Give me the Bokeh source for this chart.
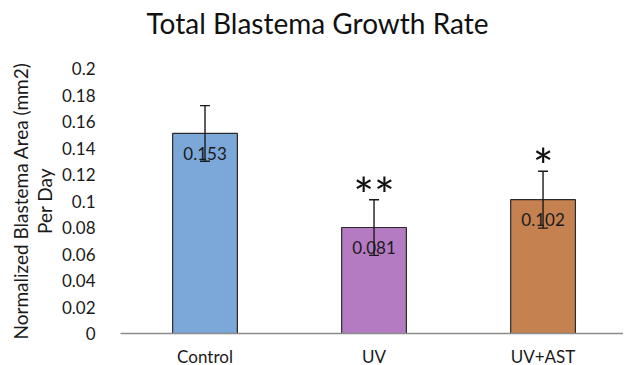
from bokeh.plotting import figure
from bokeh.models import ColumnDataSource, Range1d, FixedTicker, Whisker, TeeHead
from bokeh.embed import file_html
from bokeh.resources import INLINE
from bokeh.core.properties import value

categories = ["Control", "UV", "UV+AST"]
rates = [0.151, 0.080, 0.101]
errors = [0.021, 0.021, 0.0215]
value_labels = ["0.153", "0.081", "0.102"]
significance = ["", "**", "*"]
colors = ["#7BA7D9", "#B47BC3", "#C5814F"]
y_ticks = [0, 0.02, 0.04, 0.06, 0.08, 0.1, 0.12, 0.14, 0.16, 0.18, 0.2]
y_tick_labels = ["0", "0.02", "0.04", "0.06", "0.08", "0.1", "0.12", "0.14", "0.16", "0.18", "0.2"]
title_text = "Total Blastema Growth Rate"
y_title = "Normalized Blastema Area (mm2)\nPer Day"

FONT = "Lato"
xpos = [i + 0.5 for i in range(len(categories))]
source = ColumnDataSource(dict(
    x=xpos,
    rate=rates,
    upper=[r + e for r, e in zip(rates, errors)],
    lower=[r - e for r, e in zip(rates, errors)],
    label=value_labels,
    sig=significance,
    color=colors,
))

p = figure(frame_width=503, frame_height=265, x_range=Range1d(0, 2.976), y_range=Range1d(0, 0.2),
           output_backend="svg", toolbar_location=None, title=title_text + "\n ",
           min_border_left=120, min_border_right=0, min_border_top=66, min_border_bottom=33)
p.outline_line_color = None
p.xgrid.visible = False
p.ygrid.visible = False
p.background_fill_color = "white"

p.title.text_font = FONT
p.title.text_font_size = "28px"
p.title.text_font_style = "normal"
p.title.text_color = "#111111"
p.title.text_line_height = 0.65
p.title.align = "left"
p.title.offset = 26
p.title.vertical_align = "top"
p.title.standoff = 10

p.vbar(x="x", top="rate", bottom=0, width=0.383, source=source,
       fill_color="color", line_color="#2b2b2b", line_width=1.2)

p.add_layout(Whisker(source=source, base="x", upper="upper", lower="lower",
                     line_color="#1a1a1a", line_width=1.4, level="overlay",
                     upper_head=TeeHead(size=10, line_color="#1a1a1a", line_width=1.4),
                     lower_head=TeeHead(size=10, line_color="#1a1a1a", line_width=1.4)))

p.text(x="x", y="rate", text="label", source=source, text_font=value(FONT),
       text_font_size="17px", text_align="center", text_baseline="middle",
       y_offset=20, text_color="#1a1a1a")

p.text(x="x", y="upper", text="sig", source=source, text_font=value(FONT),
       text_font_size="49px", text_align="center", text_baseline="alphabetic",
       y_offset=-6, text_color="#111111")

xa = p.xaxis[0]
xa.ticker = FixedTicker(ticks=xpos)
xa.major_label_overrides = {x: c for x, c in zip(xpos, categories)}
xa.major_tick_line_color = None
xa.minor_tick_line_color = None
xa.axis_line_color = "#8c8c8c"
xa.axis_line_width = 1.3
xa.major_label_standoff = 6
xa.major_label_text_font = FONT
xa.major_label_text_font_size = "17px"
xa.major_label_text_color = "#1a1a1a"

ya = p.yaxis[0]
ya.ticker = FixedTicker(ticks=y_ticks)
ya.major_label_overrides = {t: l for t, l in zip(y_ticks, y_tick_labels)}
ya.axis_line_color = None
ya.major_tick_line_color = None
ya.minor_tick_line_color = None
ya.major_label_standoff = 19
ya.major_label_text_font = FONT
ya.major_label_text_font_size = "17px"
ya.major_label_text_color = "#1a1a1a"
ya.axis_label = y_title
ya.axis_label_text_font = FONT
ya.axis_label_text_font_size = "19px"
ya.axis_label_text_font_style = "normal"
ya.axis_label_text_color = "#1a1a1a"
ya.axis_label_text_line_height = 1.05
ya.axis_label_standoff = 3

open("out.html", "w").write(file_html(p, INLINE))
